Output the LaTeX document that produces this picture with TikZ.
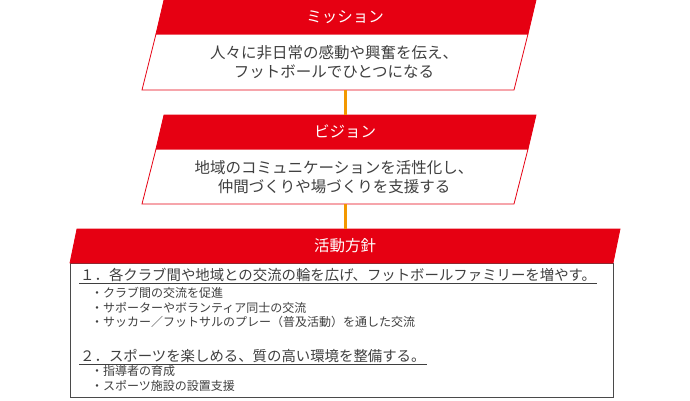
\documentclass[tikz,border=0pt]{standalone}
\usepackage{fontspec}
\setmainfont{Noto Sans CJK JP}
\usetikzlibrary{positioning}

\definecolor{jred}{HTML}{E60012}
\definecolor{jorange}{HTML}{F39800}
\definecolor{txtgray}{HTML}{3F3F3F}
\definecolor{boxgray}{HTML}{4A4A4A}

\begin{document}
\begin{tikzpicture}[x=1pt, y=-1pt,
		headfill/.style={fill=jred, draw=jred, line width=0.8pt},
		boxline/.style={draw=jred, fill=white, line width=0.8pt},
		headtext/.style={text=white, font=\fontsize{15.5}{18}\selectfont, inner sep=0pt},
		boxtext/.style={text=txtgray, align=center, font=\fontsize{15.5}{19.5}\selectfont, inner sep=0pt},
		itemhead/.style={text=txtgray, anchor=west, font=\fontsize{14.4}{16}\selectfont, inner sep=1pt},
		item/.style={text=txtgray, anchor=west, font=\fontsize{12}{14}\selectfont, inner sep=0pt},
		ulline/.style={draw=txtgray, line width=0.6pt},
		link/.style={draw=jorange, line width=3pt}]
		\useasboundingbox (0,0) rectangle (690,400);

		% mission
		\draw[boxline] (156,34) -- (528,34) -- (514,90) -- (142,90) -- cycle;
		\draw[headfill] (164,0) -- (536,0) -- (528,34) -- (156,34) -- cycle;
		\node[headtext] (mish) at (345,17) {ミッション};
		\node[boxtext] (mis) at (334,62) {人々に非日常の感動や興奮を伝え、\\フットボールでひとつになる};
		\coordinate (misB) at (345,90);

		% vision
		\draw[boxline] (156,149) -- (528,149) -- (514,204) -- (142,204) -- cycle;
		\draw[headfill] (164,115) -- (536,115) -- (528,149) -- (156,149) -- cycle;
		\node[headtext] (vish) at (345,132) {ビジョン};
		\node[boxtext] (vis) at (334,177) {地域のコミュニケーションを活性化し、\\仲間づくりや場づくりを支援する};
		\coordinate (visT) at (345,115);
		\coordinate (visB) at (345,204);

		% activity policy
		\draw[draw=boxgray, fill=white, line width=0.9pt] (70,263) rectangle (613,397);
		\draw[headfill] (77,229) -- (620,229) -- (613,263) -- (70,263) -- cycle;
		\node[headtext] (acth) at (345,246) {活動方針};
		\coordinate (actT) at (345,229);

		\draw[link] (misB) -- (visT);
		\draw[link] (visB) -- (actT);

		\node[itemhead] (h1) at (79,275) {１．各クラブ間や地域との交流の輪を広げ、フットボールファミリーを増やす。};
		\draw[ulline] (h1.south west) -- (h1.south east);
		\node[item] (i1) at (91,293) {・クラブ間の交流を促進};
		\node[item] (i2) at (91,308) {・サポーターやボランティア同士の交流};
		\node[item] (i3) at (91,322) {・サッカー／フットサルのプレー（普及活動）を通した交流};

		\node[itemhead] (h2) at (79,356) {２．スポーツを楽しめる、質の高い環境を整備する。};
		\draw[ulline] (h2.south west) -- (h2.south east);
		\node[item] (i4) at (91,371) {・指導者の育成};
		\node[item] (i5) at (91,386) {・スポーツ施設の設置支援};
	\end{tikzpicture}
\end{document}
